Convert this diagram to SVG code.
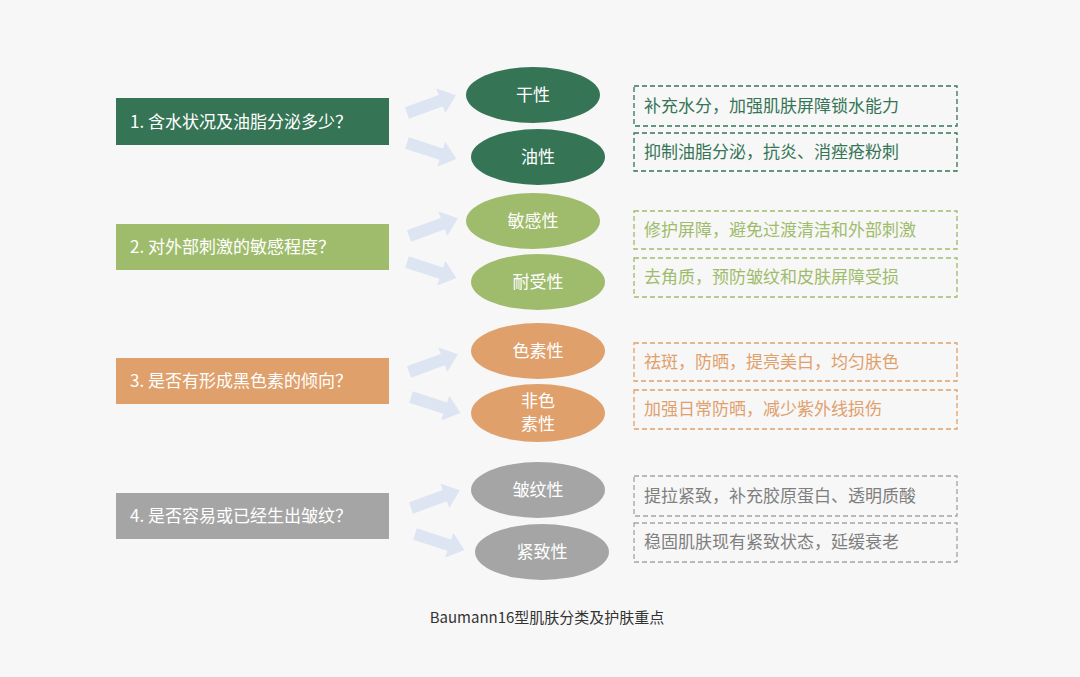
<svg xmlns="http://www.w3.org/2000/svg" width="1080" height="677" viewBox="0 0 1080 677">
<defs>
<style>
text{font-family:"Noto Sans CJK SC","Noto Sans",sans-serif}
.lbl{fill:#fff;font-size:17px}
.ov{fill:#fff;font-size:17px;text-anchor:middle}
.tip{font-size:17px}
.box{fill:none;stroke-dasharray:5 3;stroke-width:1.3}
.arr{fill:#dde5f2}
</style>
<polygon id="ar" class="arr" points="0,-6 36,-6 36,-13 52,0 36,13 36,6 0,6"/>
</defs>
<rect width="1080" height="677" fill="#f7f7f7"/>
<g id="connectors">
<use href="#ar" transform="translate(407,113) rotate(-20)"/>
<use href="#ar" transform="translate(407,143) rotate(18)"/>
<use href="#ar" transform="translate(409,236) rotate(-20)"/>
<use href="#ar" transform="translate(407,262) rotate(18)"/>
<use href="#ar" transform="translate(409,372) rotate(-20)"/>
<use href="#ar" transform="translate(411,397) rotate(18)"/>
<use href="#ar" transform="translate(411,508) rotate(-20)"/>
<use href="#ar" transform="translate(415,534) rotate(18)"/>
</g>
<g id="q1"><rect x="116" y="98" width="273" height="47" fill="#357556"/><text class="lbl" x="130" y="128">1. 含水状况及油脂分泌多少？</text></g>
<g id="q2"><rect x="116" y="224" width="273" height="46" fill="#9fbc6c"/><text class="lbl" x="130" y="253">2. 对外部刺激的敏感程度？</text></g>
<g id="q3"><rect x="116" y="358" width="273" height="46" fill="#e0a06c"/><text class="lbl" x="130" y="387">3. 是否有形成黑色素的倾向？</text></g>
<g id="q4"><rect x="116" y="493" width="273" height="46" fill="#a5a5a5"/><text class="lbl" x="130" y="522">4. 是否容易或已经生出皱纹？</text></g>
<g id="n1"><ellipse cx="533" cy="95" rx="67" ry="28" fill="#357556"/><text class="ov" x="533" y="101">干性</text></g>
<g id="n2"><ellipse cx="538" cy="157" rx="67" ry="28" fill="#357556"/><text class="ov" x="538" y="163">油性</text></g>
<g id="n3"><ellipse cx="533" cy="221" rx="67" ry="28" fill="#9fbc6c"/><text class="ov" x="533" y="227">敏感性</text></g>
<g id="n4"><ellipse cx="538" cy="282" rx="67" ry="28" fill="#9fbc6c"/><text class="ov" x="538" y="288">耐受性</text></g>
<g id="n5"><ellipse cx="538" cy="351" rx="67" ry="28" fill="#e0a06c"/><text class="ov" x="538" y="357">色素性</text></g>
<g id="n6"><ellipse cx="538" cy="413" rx="67" ry="29" fill="#e0a06c"/><text class="ov" x="538" y="407">非色</text><text class="ov" x="538" y="430">素性</text></g>
<g id="n7"><ellipse cx="538" cy="490" rx="67" ry="28" fill="#a5a5a5"/><text class="ov" x="538" y="496">皱纹性</text></g>
<g id="n8"><ellipse cx="542" cy="552" rx="67" ry="28" fill="#a5a5a5"/><text class="ov" x="542" y="558">紧致性</text></g>
<g id="t1"><rect class="box" x="634" y="86" width="323" height="40" stroke="#357556"/><text class="tip" x="644" y="112" fill="#357556">补充水分，加强肌肤屏障锁水能力</text></g>
<g id="t2"><rect class="box" x="634" y="133" width="323" height="38" stroke="#357556"/><text class="tip" x="644" y="158" fill="#357556">抑制油脂分泌，抗炎、消痤疮粉刺</text></g>
<g id="t3"><rect class="box" x="634" y="211" width="323" height="38" stroke="#9fbc6c"/><text class="tip" x="644" y="236" fill="#9fbc6c">修护屏障，避免过渡清洁和外部刺激</text></g>
<g id="t4"><rect class="box" x="634" y="258" width="323" height="39" stroke="#9fbc6c"/><text class="tip" x="644" y="283" fill="#9fbc6c">去角质，预防皱纹和皮肤屏障受损</text></g>
<g id="t5"><rect class="box" x="634" y="343" width="323" height="38" stroke="#e0a06c"/><text class="tip" x="644" y="368" fill="#e0a06c">祛斑，防晒，提亮美白，均匀肤色</text></g>
<g id="t6"><rect class="box" x="634" y="390" width="323" height="39" stroke="#e0a06c"/><text class="tip" x="644" y="415" fill="#e0a06c">加强日常防晒，减少紫外线损伤</text></g>
<g id="t7"><rect class="box" x="634" y="476" width="323" height="40" stroke="#a5a5a5"/><text class="tip" x="644" y="502" fill="#7f7f7f">提拉紧致，补充胶原蛋白、透明质酸</text></g>
<g id="t8"><rect class="box" x="634" y="523" width="323" height="39" stroke="#a5a5a5"/><text class="tip" x="644" y="548" fill="#7f7f7f">稳固肌肤现有紧致状态，延缓衰老</text></g>
<text x="547" y="623" font-size="15" fill="#333" text-anchor="middle">Baumann16型肌肤分类及护肤重点</text>
</svg>
